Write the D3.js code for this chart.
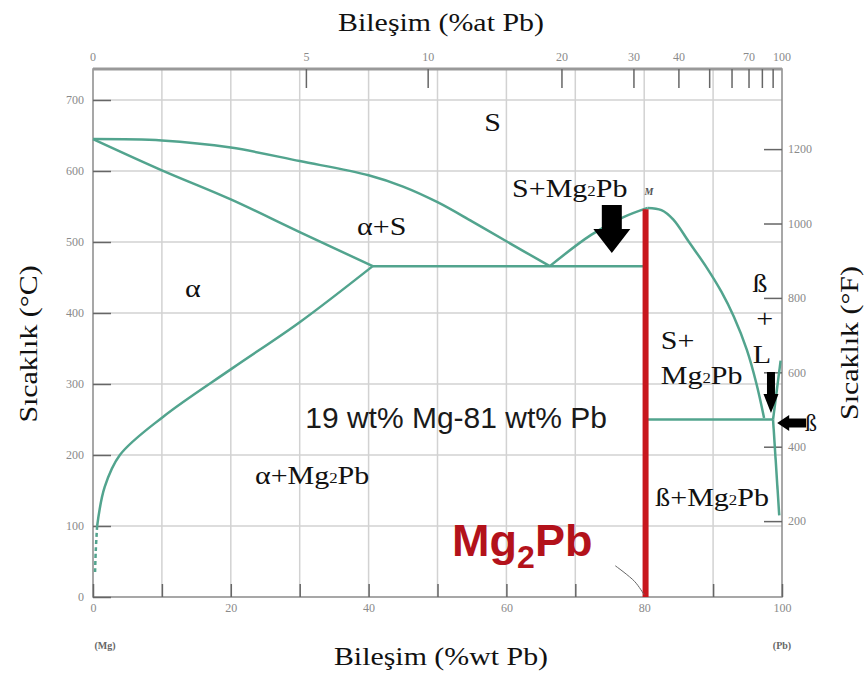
<!DOCTYPE html>
<html>
<head>
<meta charset="utf-8">
<script src="https://cdn.jsdelivr.net/npm/d3@7"></script>
<style>
  body { margin: 0; background: #fff; }
  svg { display: block; }
</style>
</head>
<body>
<svg id="chart" width="866" height="675"></svg>
<script>
// tick values
const wtTicks = [0, 10, 20, 30, 40, 50, 60, 70, 80, 90, 100];
const wtLabels = [0, 20, 40, 60, 80, 100];
const tempTicks = [0, 100, 200, 300, 400, 500, 600, 700];
const atTicks = [5, 10, 20, 30, 40, 50, 60, 70, 80, 90];
const atLabels = [0, 5, 10, 20, 30, 40, 70, 100];
const fTicks = [200, 400, 600, 800, 1000, 1200];

// phase boundaries, [wt% Pb, °C]
const liquidusMg = [[0, 645], [10, 643], [20, 633], [30, 614], [40, 594], [45, 578], [50, 556], [55, 529], [60, 501], [66.3, 466]];
const solidusMg = [[0, 645], [10, 601], [20, 560], [30, 514], [40.6, 466]];
const solvusMg = [[0.6, 100], [1.7, 155], [3.9, 200], [10.2, 254], [20.2, 322], [30, 387], [40.6, 466]];
const solvusMgDashed = [[0.6, 100], [0.4, 65], [0.3, 35]];
const eutecticLeft = [[40.6, 466], [80, 466]];
const liquidusRise = [[66.3, 466], [72.3, 510], [77, 535], [80.5, 548]];
const liquidusFall = [[80.5, 548], [82.5, 545], [84.2, 532], [86.5, 500], [89, 465], [91.2, 430], [93, 395], [94.9, 348], [96.3, 300], [97.4, 252]];
const eutecticRight = [[80, 250], [98.7, 250]];
const liquidusPb = [[99.8, 333], [98.7, 250]];
const solvusPb = [[98.7, 250], [99.6, 115]];
const mg2pbLine = [[80.2, 0], [80.2, 546]];
const leader = [[75.8, 44], [78.6, 22], [80, 3]];

// region labels, [text, wt% Pb, °C, anchor]
const phaseLabels = [
  ['S', 58, 668, 'middle'],
  ['α+S', 41.9, 522, 'middle'],
  ['α', 14.5, 435, 'middle'],
  ['ß', 96.8, 442, 'middle'],
  ['+', 97.5, 393, 'middle'],
  ['L', 97.1, 342, 'middle'],
  ['S+', 82.4, 362, 'start']
];
// labels with Mg2Pb, [prefix, wt% Pb, °C, anchor]
const mg2pbLabels = [
  ['S+', 69.2, 576, 'middle'],
  ['', 82.4, 313, 'start'],
  ['ß+', 81.6, 141, 'start'],
  ['α+', 31.8, 172, 'middle']
];

const svg = d3.select('#chart');
const x = d3.scaleLinear().domain([0, 100]).range([93, 782]);
const y = d3.scaleLinear().domain([0, 700]).range([597, 100]);
const yF = d3.scaleLinear().domain([-4, 1332]).range([597, 100]);
const plotTop = 69;
const serif = 'Liberation Serif, Times New Roman, serif';
const teal = '#52a48e';

// at% Pb -> wt% Pb (Mg 24.305, Pb 207.2)
const atToWt = a => 100 * a * 207.2 / (a * 207.2 + (100 - a) * 24.305);

// grid
const grid = svg.append('g').attr('stroke', '#d2d2d2').attr('stroke-width', 1.5);
wtTicks.slice(1, -1).forEach(v => {
  grid.append('line').attr('x1', x(v)).attr('x2', x(v)).attr('y1', plotTop).attr('y2', y(0));
});
tempTicks.slice(1).forEach(v => {
  grid.append('line').attr('x1', x(0)).attr('x2', x(100)).attr('y1', y(v)).attr('y2', y(v));
});

// frame
svg.append('rect')
  .attr('x', x(0)).attr('y', plotTop)
  .attr('width', x(100) - x(0)).attr('height', y(0) - plotTop)
  .attr('fill', 'none').attr('stroke', '#8a8a8a').attr('stroke-width', 1.5);
svg.append('line')
  .attr('x1', x(0)).attr('x2', x(100)).attr('y1', plotTop).attr('y2', plotTop)
  .attr('stroke', '#999').attr('stroke-width', 3);

function styleAxis(g) {
  g.select('.domain').remove();
  g.selectAll('.tick line').attr('stroke', '#666').attr('stroke-width', 1.5);
  g.selectAll('.tick text')
    .attr('fill', '#8a8a8a')
    .style('font-family', serif)
    .style('font-size', '12px');
}

// left axis (°C)
svg.append('g')
  .attr('transform', `translate(${x(0)},0)`)
  .call(d3.axisLeft(y).tickValues(tempTicks).tickSizeInner(-18).tickSizeOuter(0).tickPadding(9))
  .call(styleAxis);

// bottom axis (wt%)
svg.append('g')
  .attr('transform', `translate(0,${y(0)})`)
  .call(d3.axisBottom(x).tickValues(wtTicks).tickSizeInner(-13).tickSizeOuter(0).tickPadding(6)
    .tickFormat(d => wtLabels.includes(d) ? d : ''))
  .call(styleAxis);

// right axis (°F)
svg.append('g')
  .attr('transform', `translate(${x(100)},0)`)
  .call(d3.axisRight(yF).tickValues(fTicks).tickSizeInner(-18).tickSizeOuter(0).tickPadding(6)
    .tickFormat(d => d))
  .call(styleAxis);

// top axis (at%)
const topAxis = svg.append('g');
topAxis.selectAll('line').data(atTicks).join('line')
  .attr('x1', d => x(atToWt(d))).attr('x2', d => x(atToWt(d)))
  .attr('y1', plotTop).attr('y2', plotTop + 19)
  .attr('stroke', '#666').attr('stroke-width', 1.5);
topAxis.selectAll('text').data(atLabels).join('text')
  .attr('x', d => x(atToWt(d))).attr('y', plotTop - 8)
  .attr('text-anchor', 'middle')
  .attr('fill', '#8a8a8a')
  .style('font-family', serif).style('font-size', '12px')
  .text(d => d);

// axis titles
const title = (txt, tx, ty, rot) => svg.append('text')
  .attr('transform', `translate(${tx},${ty}) rotate(${rot}) scale(1.15,1)`)
  .attr('text-anchor', 'middle')
  .attr('dominant-baseline', 'central')
  .style('font-family', serif).style('font-size', '26px')
  .attr('fill', '#111')
  .text(txt);
title('Bileşim (%at Pb)', 441, 22, 0);
title('Bileşim (%wt Pb)', 441, 656, 0);
title('Sıcaklık (°C)', 28, 344, -90);
title('Sıcaklık (°F)', 849, 343, -90);

svg.append('text').attr('x', 105).attr('y', 649).attr('text-anchor', 'middle')
  .style('font-family', serif).style('font-size', '10px').style('font-weight', 'bold')
  .attr('fill', '#666').text('(Mg)');
svg.append('text').attr('x', x(100)).attr('y', 649).attr('text-anchor', 'middle')
  .style('font-family', serif).style('font-size', '10px').style('font-weight', 'bold')
  .attr('fill', '#666').text('(Pb)');

// phase boundaries
const smooth = d3.line().x(d => x(d[0])).y(d => y(d[1])).curve(d3.curveCatmullRom.alpha(0.5));
const straight = d3.line().x(d => x(d[0])).y(d => y(d[1]));
const phases = svg.append('g').attr('fill', 'none').attr('stroke', teal).attr('stroke-width', 2.5);
[liquidusMg, solidusMg, solvusMg, liquidusRise, liquidusFall].forEach(p => {
  phases.append('path').attr('d', smooth(p));
});
[eutecticLeft, eutecticRight, liquidusPb, solvusPb].forEach(p => {
  phases.append('path').attr('d', straight(p));
});
phases.append('path').attr('d', smooth(solvusMgDashed)).attr('stroke-dasharray', '4,3');

// Mg2Pb compound
svg.append('path').attr('d', straight(mg2pbLine))
  .attr('stroke', '#c8171d').attr('stroke-width', 6);
svg.append('path').attr('d', smooth(leader))
  .attr('fill', 'none').attr('stroke', '#666').attr('stroke-width', 1);
svg.append('text')
  .attr('x', x(80.7)).attr('y', y(566))
  .attr('text-anchor', 'middle')
  .style('font-family', serif).style('font-size', '10px').style('font-style', 'italic').style('font-weight', 'bold')
  .attr('fill', '#555').text('M');

// region labels
const labels = svg.append('g')
  .style('font-family', serif).style('font-size', '25px').attr('fill', '#111');
phaseLabels.forEach(([t, w, c, a]) => {
  labels.append('text')
    .attr('transform', `translate(${x(w)},${y(c)}) scale(1.2,1)`)
    .attr('text-anchor', a).attr('dominant-baseline', 'central')
    .text(t);
});
mg2pbLabels.forEach(([t, w, c, a]) => {
  const txt = labels.append('text')
    .attr('transform', `translate(${x(w)},${y(c)}) scale(1.2,1)`)
    .attr('text-anchor', a).attr('dominant-baseline', 'central');
  txt.append('tspan').text(t + 'Mg');
  txt.append('tspan').style('font-size', '14px').attr('dy', 3).text('2');
  txt.append('tspan').attr('dy', -3).text('Pb');
});

// composition note
svg.append('text')
  .attr('x', x(30.8)).attr('y', y(253.5))
  .attr('dominant-baseline', 'central')
  .style('font-family', 'Liberation Sans, Arial, sans-serif').style('font-size', '30px')
  .attr('fill', '#1a1a1a')
  .text('19 wt% Mg-81 wt% Pb');

// big Mg2Pb label
const big = svg.append('text')
  .attr('x', x(62.3)).attr('y', y(58))
  .attr('text-anchor', 'middle')
  .style('font-family', 'Liberation Sans, Arial, sans-serif').style('font-size', '45px').style('font-weight', 'bold')
  .attr('fill', '#b3121b');
big.append('tspan').text('Mg');
big.append('tspan').style('font-size', '32px').attr('dy', 12).text('2');
big.append('tspan').attr('dy', -12).text('Pb');

// arrows
function downArrow(tx, ty, sw, sh, hw, hh) {
  return `M${tx},${ty} L${tx - hw / 2},${ty - hh} L${tx - sw / 2},${ty - hh} L${tx - sw / 2},${ty - hh - sh}
    L${tx + sw / 2},${ty - hh - sh} L${tx + sw / 2},${ty - hh} L${tx + hw / 2},${ty - hh} Z`;
}
function leftArrow(tx, ty, sw, sh, hw, hh) {
  return `M${tx},${ty} L${tx + hh},${ty - hw / 2} L${tx + hh},${ty - sw / 2} L${tx + hh + sh},${ty - sw / 2}
    L${tx + hh + sh},${ty + sw / 2} L${tx + hh},${ty + sw / 2} L${tx + hh},${ty + hw / 2} Z`;
}
svg.append('path').attr('d', downArrow(x(75.3), y(484.5), 20, 24, 37, 24)).attr('fill', '#000');
svg.append('path').attr('d', downArrow(x(98.4), y(259), 8, 22, 15, 19)).attr('fill', '#000');
svg.append('path').attr('d', leftArrow(x(99.3), y(245), 9, 17, 16, 12)).attr('fill', '#000');
svg.append('text')
  .attr('x', 805).attr('y', y(245))
  .attr('dominant-baseline', 'central')
  .style('font-family', serif).style('font-size', '24px').attr('fill', '#111')
  .text('ß');
</script>
</body>
</html>
